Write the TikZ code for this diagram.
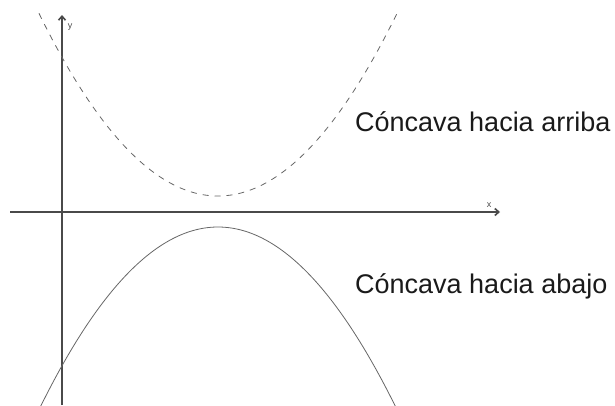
\documentclass[tikz,border=0pt]{standalone}
\usepackage{fontspec}
\setmainfont{Liberation Sans}
\usetikzlibrary{arrows.meta}
\definecolor{axisgray}{HTML}{4A4A4A}
\definecolor{curvegray}{HTML}{666666}
\definecolor{textdark}{HTML}{1A1A1A}
\tikzset{
  axisline/.style={draw=axisgray, line width=1.8pt, -{Straight Barb[length=4pt,width=7pt,line width=1.6pt]}},
  curveline/.style={draw=curvegray, line width=0.8pt, smooth, samples=80},
  dashcurve/.style={curveline, dash pattern=on 6pt off 6pt},
  bigtext/.style={font=\fontsize{27}{30}\selectfont, text=textdark, inner sep=0pt, anchor=base west},
  axislabel/.style={font=\fontsize{9}{10}\selectfont, text=axisgray, inner sep=0pt}
}
\begin{document}
\begin{tikzpicture}[x=1pt, y=-1pt]
\useasboundingbox (0,0) rectangle (615,405);
\coordinate (xs) at (10,212);
\coordinate (xe) at (500,212);
\coordinate (ys) at (62,405);
\coordinate (ye) at (62,15);
\draw[axisline] (xs) -- (xe);
\draw[axisline] (ys) -- (ye);
\node[axislabel] (ylab) at (70,27) {y};
\node[axislabel] (xlab) at (489,205) {x};
\begin{scope}
\clip (0,0) rectangle (615,405);
\draw[dashcurve, domain=39:397] plot (\x, {196 - 0.57*((\x-218)/10)^2});
\draw[curveline, domain=40:396] plot (\x, {227 + 0.57*((\x-218)/10)^2});
\end{scope}
\node[bigtext] (up) at (355,131) {Cóncava hacia arriba};
\node[bigtext] (down) at (355,293) {Cóncava hacia abajo};
\end{tikzpicture}
\end{document}
